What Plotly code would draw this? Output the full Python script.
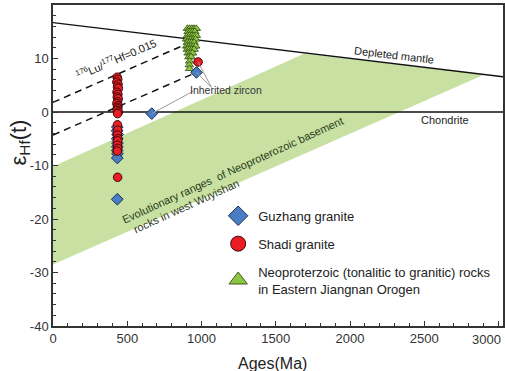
import plotly.graph_objects as go

# ---------------- data ----------------
# Shadi granite (red circles), ages in Ma, eHf(t)
shadi_age = [432, 436, 430, 438, 434, 440, 431, 437, 433, 439, 435, 430, 438, 434, 436, 432, 440, 435,
             434, 436, 433, 437, 435, 434, 436, 433, 435]
shadi_eps = [6.5, 6.1, 5.6, 5.2, 4.7, 4.4, 3.7, 3.3, 2.8, 2.5, 1.9, 1.6, 1.2, 0.9, 0.6, 0.3, 0.0, -0.3,
             -2.4, -3.4, -4.3, -5.0, -5.4, -6.2, -6.8, -7.3, -12.2]
shadi_inh_age = [977]
shadi_inh_eps = [9.35]

# Guzhang granite (blue diamonds)
guz_age = [433, 431, 435, 432, 434, 433, 432, 434, 433, 433]
guz_eps = [-2.8, -3.5, -4.2, -5.0, -5.8, -6.5, -7.2, -7.8, -8.6, -16.3]
guz_inh_age = [665, 966]
guz_inh_eps = [-0.3, 7.4]

# Neoproterozoic rocks in Eastern Jiangnan Orogen (green triangles)
neo_age = [905, 920, 935, 950, 965,
           910, 925, 940, 955,
           905, 920, 935, 950, 965,
           900, 915, 930, 945, 960,
           905, 920, 935, 950,
           900, 915, 930, 945, 960,
           905, 920, 935, 950,
           910, 925, 940,
           915, 930,
           920, 918, 920]
neo_eps = [15.6, 15.6, 15.6, 15.6, 15.6,
           15.0, 15.0, 15.0, 15.0,
           14.3, 14.3, 14.3, 14.3, 14.3,
           13.6, 13.6, 13.6, 13.6, 13.6,
           13.0, 13.0, 13.0, 13.0,
           12.3, 12.3, 12.3, 12.3, 12.3,
           11.7, 11.7, 11.7, 11.7,
           11.0, 11.0, 11.0,
           10.3, 10.3,
           9.5, 8.8, 8.1]

# Reference evolution lines
dm_age = [0, 3030]
dm_eps = [16.7, 6.6]
chur_age = [0, 3030]
chur_eps = [0, 0]
lu_upper_age = [0, 890]
lu_upper_eps = [1.8, 12.6]
lu_lower_age = [0, 966]
lu_lower_eps = [-4.3, 7.4]

# Evolutionary range band of Neoproterozoic basement (west Wuyishan)
band_age = [0, 1690, 2905, 0, 0]
band_eps = [-10.2, 10.9, 7.0, -28.5, -10.2]

x_ticks = [0, 500, 1000, 1500, 2000, 2500, 3000]
x_ticktext = ["0", "500", "1000", "1500", "2000", "2500", ""]
y_ticks = [-40, -30, -20, -10, 0, 10, 20]

FONT = "Arial, 'Liberation Sans', Helvetica, sans-serif"

fig = go.Figure()

fig.add_trace(go.Scatter(x=band_age, y=band_eps, mode="lines", fill="toself",
                         fillcolor="rgb(200,225,162)", line=dict(width=0),
                         showlegend=False, hoverinfo="skip"))
fig.add_trace(go.Scatter(x=dm_age, y=dm_eps, mode="lines",
                         line=dict(color="#111", width=1.4), showlegend=False))
fig.add_trace(go.Scatter(x=chur_age, y=chur_eps, mode="lines",
                         line=dict(color="#111", width=1.4), showlegend=False))
for xa, ya in [(lu_upper_age, lu_upper_eps), (lu_lower_age, lu_lower_eps)]:
    fig.add_trace(go.Scatter(x=xa, y=ya, mode="lines",
                             line=dict(color="#111", width=1.5, dash="7px,5px"),
                             showlegend=False))

# leader lines for inherited zircons
lead_col = "#9a9a9a"
fig.add_shape(type="line", x0=guz_inh_age[0], y0=guz_inh_eps[0], x1=945, y1=3.9,
              line=dict(color=lead_col, width=1))
fig.add_shape(type="line", x0=guz_inh_age[1], y0=guz_inh_eps[1], x1=1067, y1=4.6,
              line=dict(color=lead_col, width=1))
fig.add_shape(type="line", x0=shadi_inh_age[0], y0=shadi_inh_eps[0], x1=1067, y1=4.6,
              line=dict(color=lead_col, width=1))

blue = dict(symbol="diamond", color="#4a7dc4", line=dict(color="#1c2f55", width=1))
red = dict(symbol="circle", color="#ec1c24", line=dict(color="#3a0a0a", width=1))
green = dict(symbol="triangle-up", color="#8dc63f", line=dict(color="#2f4a14", width=0.8))

fig.add_trace(go.Scatter(x=neo_age, y=neo_eps, mode="markers",
                         marker=dict(size=7.5, **green), showlegend=False))
fig.add_trace(go.Scatter(x=guz_age + guz_inh_age, y=guz_eps + guz_inh_eps, mode="markers",
                         marker=dict(size=9, **blue), showlegend=False))
fig.add_trace(go.Scatter(x=shadi_age + shadi_inh_age, y=shadi_eps + shadi_inh_eps, mode="markers",
                         marker=dict(size=8.5, **red), showlegend=False))

# legend entries
fig.add_trace(go.Scatter(x=[None], y=[None], mode="markers", name="Guzhang granite",
                         marker=dict(size=15, **blue), legendgroup="a"))
fig.add_trace(go.Scatter(x=[None], y=[None], mode="markers", name="Shadi granite",
                         marker=dict(size=15, **red), legendgroup="b"))
fig.add_trace(go.Scatter(x=[None], y=[None], mode="markers",
                         name="Neoproterzoic (tonalitic to granitic) rocks<br>in Eastern Jiangnan Orogen",
                         marker=dict(size=16, symbol="triangle-up", color="#8dc63f",
                                     line=dict(color="#3d5a1e", width=1)), legendgroup="c"))

ann_col = "#222"
anns = [
    dict(x=2296, y=10.6, text="Depleted mantle", textangle=6.8, font=dict(size=11, color=ann_col)),
    dict(x=2640, y=-1.55, text="Chondrite", font=dict(size=11, color=ann_col)),
    dict(x=1164, y=4.05, text="Inherited zircon", font=dict(size=10.5, color="#333")),
    dict(x=422, y=10.0, text="<sup>176</sup>Lu/<sup>177</sup>Hf=0.015", textangle=-23.5,
         font=dict(size=11, color=ann_col)),
    dict(x=1211, y=-10.9, text="Evolutionary ranges  of Neoproterozoic basement", textangle=-24.5,
         font=dict(size=11, color="#2a3a1a")),
    dict(x=898, y=-17.6, text="rocks in west Wuyishan", textangle=-24.5,
         font=dict(size=11, color="#2a3a1a")),
]
for a in anns:
    fig.add_annotation(xref="x", yref="y", showarrow=False, xanchor="center", yanchor="middle", **a)

# last x tick label, pulled inside the page like in the original
fig.add_annotation(xref="paper", yref="paper", x=1.0, y=0, yanchor="top", xanchor="right",
                   yshift=-4, showarrow=False, text=str(x_ticks[-1]),
                   font=dict(size=13, color="#333", family=FONT))

fig.add_annotation(xref="paper", yref="paper", x=-0.073, y=0.572, showarrow=False,
                   xanchor="center", yanchor="middle",
                   text="ε<sub>Hf</sub>(t)", textangle=-90,
                   font=dict(size=22, color="#222", family=FONT))
fig.add_annotation(xref="paper", yref="paper", x=0.487, y=-0.085, showarrow=False,
                   xanchor="center", yanchor="top", text="Ages(Ma)",
                   font=dict(size=16, color="#222", family=FONT))

axis_common = dict(showgrid=False, zeroline=False, showline=True, linecolor="#333", linewidth=1.5,
                   mirror=True, ticks="inside", ticklen=5, tickcolor="#333", tickwidth=1.2,
                   automargin=False,
                   tickfont=dict(size=13, color="#333", family=FONT))
fig.update_xaxes(range=[0, 3030], tickvals=x_ticks, ticktext=x_ticktext,
                 minor=dict(dtick=100, ticks="inside", ticklen=3, tickcolor="#333"), **axis_common)
fig.update_yaxes(range=[-40, 20], tickvals=y_ticks, ticktext=[str(v) for v in y_ticks],
                 minor=dict(dtick=2, ticks="inside", ticklen=3, tickcolor="#333"), **axis_common)

fig.update_layout(
    width=505, height=371,
    margin=dict(l=53, r=2, t=5, b=45, autoexpand=False),
    paper_bgcolor="white", plot_bgcolor="white",
    font=dict(family=FONT, color="#222"),
    legend=dict(x=0.367, y=0.39, xanchor="left", yanchor="top", bgcolor="rgba(0,0,0,0)",
                font=dict(size=13, color="#222", family=FONT), tracegroupgap=8,
                itemclick=False),
)

fig.write_html("out.html", config={"displayModeBar": False},
               post_script="document.body.style.margin='0';document.body.style.overflow='hidden';")
